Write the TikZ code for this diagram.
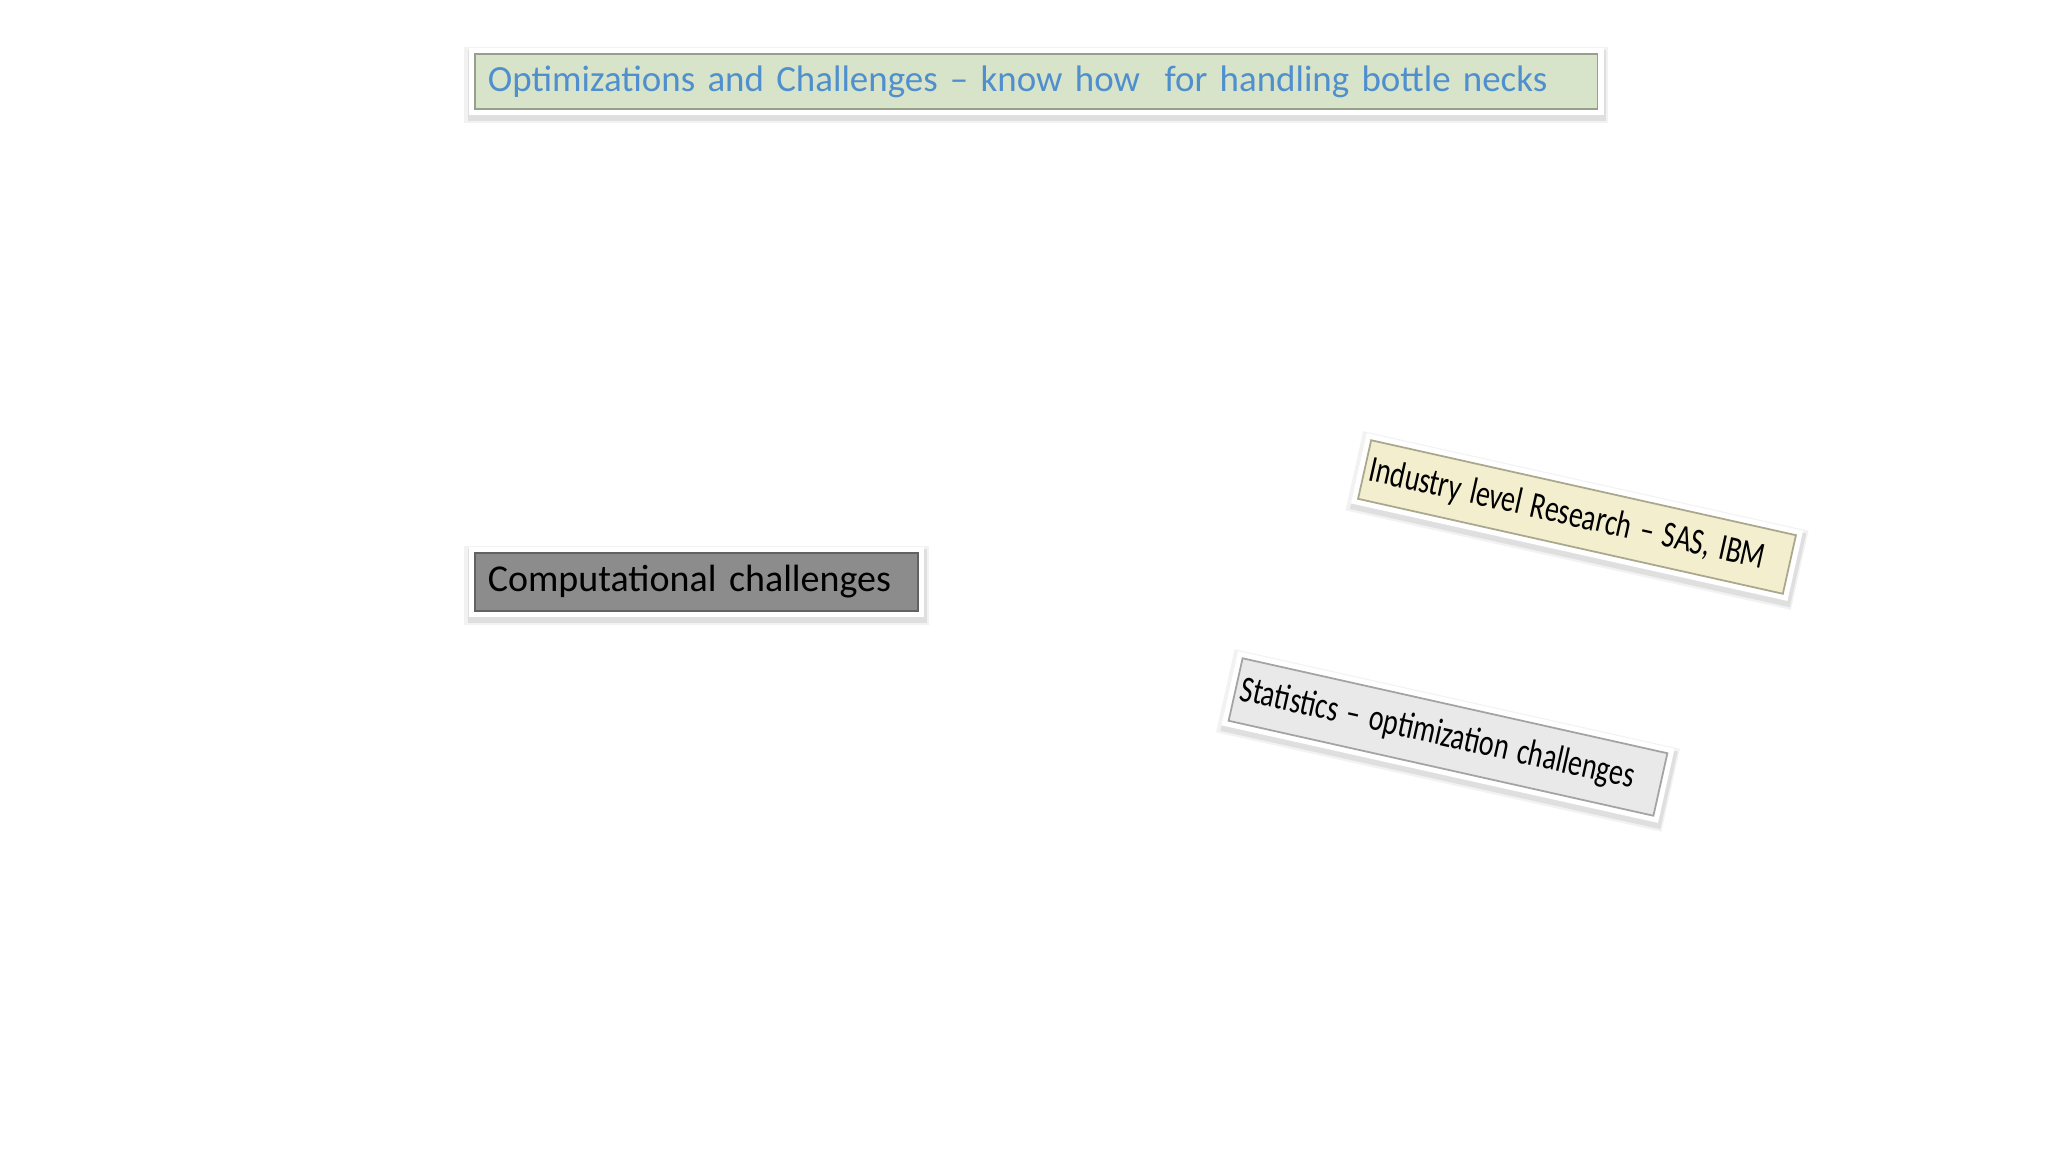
\documentclass[tikz,border=0pt]{standalone}
\usepackage{fontspec}
\setmainfont{Carlito}
\usetikzlibrary{shadows}
\definecolor{titlegreen}{RGB}{216,228,201}
\definecolor{titleblue}{RGB}{79,143,206}
\definecolor{compgray}{RGB}{140,140,140}
\definecolor{indyellow}{RGB}{243,238,205}
\definecolor{statgray}{RGB}{233,233,233}

\begin{document}
\begin{tikzpicture}[x=0.01cm, y=-0.01cm,
    bnode/.style={general shadow={draw=black, line width=6pt, opacity=.05, shadow yshift=-1pt},
      general shadow={draw=black, line width=4.4pt, opacity=.08, shadow xshift=.3pt, shadow yshift=-1.2pt},
      preaction={draw=white, line width=3.4pt}, draw=#1!70!black, line width=.5pt, fill=#1,
      inner xsep=3.7pt, inner ysep=0pt, align=left},
    snode/.style={bnode=#1, rotate=-12.6, xscale=.75, minimum width=5.8cm, inner xsep=2pt,
      text width=5.66cm, font=\fontsize{10.6}{12}\selectfont}]
    \useasboundingbox (0,0) rectangle (2048,1152);

    \node[bnode=titlegreen, anchor=north west, minimum height=.55cm, text width=10.96cm,
      text=titleblue, font=\fontsize{10.5}{12}\selectfont] (title) at (474,53)
      {Optimizations and Challenges -- know how \ for handling bottle necks};
    \node[bnode=compgray, anchor=north west, minimum height=.58cm, text width=4.17cm,
      font=\fontsize{10.8}{12}\selectfont] (comp) at (474,552) {Computational challenges};

    \node[snode=indyellow, minimum height=.6cm] (ind) at (1577,517) {Industry level Research -- SAS, IBM};
    \node[snode=statgray, minimum height=.64cm] (stat) at (1448,737) {Statistics -- optimization challenges};
\end{tikzpicture}
\end{document}
